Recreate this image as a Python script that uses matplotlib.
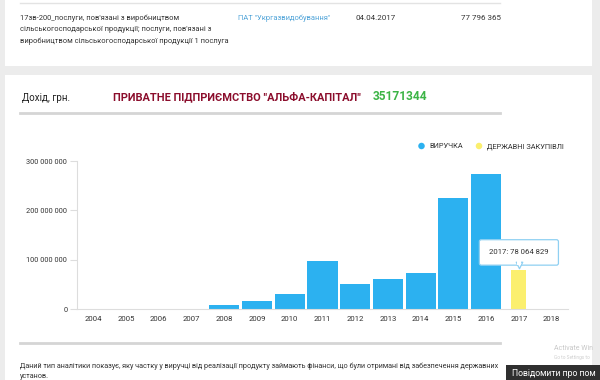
import numpy as np
import matplotlib
matplotlib.use("Agg")
import matplotlib.pyplot as plt
from matplotlib.patches import Rectangle
from matplotlib.transforms import offset_copy

plt.rcParams['font.family'] = ['Roboto', 'DejaVu Sans']

# Data
years = [str(y) for y in range(2004, 2019)]
revenue = [0, 0, 0, 0, 9e6, 17e6, 31e6, 97e6, 51e6, 61e6, 72e6, 224e6, 274e6, 0, 0]
procurement_year = '2017'
procurement_value = 78064829
yticks = [0, 100e6, 200e6, 300e6]
ytick_labels = ['0', '100 000 000', '200 000 000', '300 000 000']

blue = '#2cb1f0'
yellow = '#fbef6e'
page_bg = '#ececec'

fig = plt.figure(figsize=(6, 3.8), dpi=100)
fig.patch.set_facecolor(page_bg)

# Page background drawn in pixel coordinates
bg = fig.add_axes([0, 0, 1, 1])
bg.set_xlim(0, 600)
bg.set_ylim(380, 0)
bg.axis('off')
bg.add_patch(Rectangle((5, -2), 587, 68, facecolor='white', edgecolor='none'))
bg.add_patch(Rectangle((5, 75), 587, 310, facecolor='white', edgecolor='none'))
bg.plot([20, 500], [3, 3], color='#e3e3e3', lw=1)
bg.plot([20, 500], [113, 113], color='#d5d5d5', lw=2)
bg.plot([20, 500], [343, 343], color='#d5d5d5', lw=2)

# Top table row
row_font = dict(fontsize=5.4, color='#333333', va='center')
bg.text(20, 18, "17зв-200_послуги, пов'язані з виробництвом", **row_font)
bg.text(20, 29.5, "сільськогосподарської продукції; послуги, пов'язані з", **row_font)
bg.text(20, 41, "виробництвом сільськогосподарської продукції 1 послуга", **row_font)
bg.text(238, 18, 'ПАТ "Укргазвидобування"', fontsize=5.4, color='#4fa3d8', va='center')
bg.text(356, 18, '04.04.2017', fontsize=5.8, color='#333333', va='center')
bg.text(501, 18, '77 796 365', ha='right', fontsize=5.8, color='#333333', va='center')

# Header
bg.text(22, 98, 'Дохід, грн.', fontsize=7, color='#222222', va='center')
bg.text(113, 97, 'ПРИВАТНЕ ПІДПРИЄМСТВО "АЛЬФА-КАПІТАЛ"', fontsize=7.9, fontweight='bold',
        color='#8b0d2c', va='center')
bg.text(373, 97, '35171344', fontsize=8.6, fontweight='bold', color='#3cb446', va='center')

# Legend
bg.scatter([421.5], [146], s=22, color=blue, edgecolor='none')
bg.text(429, 146.5, 'ВИРУЧКА', fontsize=5.3, color='#333333', va='center')
bg.scatter([479], [146], s=22, color=yellow, edgecolor='none')
bg.text(487, 146.5, 'ДЕРЖАВНІ ЗАКУПІВЛІ', fontsize=5.3, color='#333333', va='center')

# Footer text
bg.text(20, 366, 'Даний тип аналітики показує, яку частку у виручці від реалізації продукту займають '
        'фінанси, що були отримані від забезпечення державних', fontsize=5.2, color='#333333', va='center')
bg.text(20, 377, 'установ.', fontsize=5.2, color='#333333', va='center')
bg.text(554, 349, 'Activate Win', fontsize=5, color='#c8c8c8', va='center')
bg.text(554, 358, 'Go to Settings to', fontsize=3.4, color='#cfcfcf', va='center')
bg.add_patch(Rectangle((506, 365), 100, 20, facecolor='#2f2f2f', edgecolor='none'))
bg.text(512, 374, 'Повідомити про пом', fontsize=6.2, color='white', va='center')

# Chart
ax = fig.add_axes([77 / 600, 71 / 380, 491 / 600, 148 / 380])
ax.set_facecolor('none')
x = np.arange(len(years))
ax.bar(x, revenue, width=0.92, color=blue, edgecolor='none')
pi = years.index(procurement_year)
ax.bar(pi, procurement_value, width=0.46, color=yellow, edgecolor='none')
ax.set_xlim(-0.5, len(years) - 0.5)
ax.set_ylim(0, 300e6)
ax.set_xticks(x)
ax.set_xticklabels(years)
ax.set_yticks(yticks)
ax.set_yticklabels(ytick_labels)
ax.tick_params(axis='x', length=0, labelsize=5.6, colors='#333333', pad=5)
ax.tick_params(axis='y', length=5, width=0.8, color='#dddddd', labelsize=5.3,
               labelcolor='#333333', pad=2)
for side in ['top', 'right']:
    ax.spines[side].set_visible(False)
for side in ['left', 'bottom']:
    ax.spines[side].set_color('#dddddd')
    ax.spines[side].set_linewidth(0.8)

# Tooltip
label = f"{procurement_year}: {procurement_value:,}".replace(',', ' ')
ax.annotate(label, xy=(pi, procurement_value), xytext=(0, 13), textcoords='offset points',
            ha='center', va='center', fontsize=5.6, color='#333333', zorder=5,
            bbox=dict(boxstyle='round,pad=1.25,rounding_size=0.25', facecolor='white',
                      edgecolor='#8fd0f2', lw=0.9))
tip = offset_copy(ax.transData, fig=fig, x=0, y=4.3, units='points')
ax.scatter([pi], [procurement_value], marker='v', s=22, facecolor='white',
           edgecolor='#8fd0f2', linewidth=0.9, transform=tip, zorder=6, clip_on=False)
tip2 = offset_copy(ax.transData, fig=fig, x=0, y=5.6, units='points')
ax.scatter([pi], [procurement_value], marker='s', s=9, facecolor='white',
           edgecolor='none', transform=tip2, zorder=7, clip_on=False)

fig.savefig('out.png', dpi=100, facecolor=fig.get_facecolor())
